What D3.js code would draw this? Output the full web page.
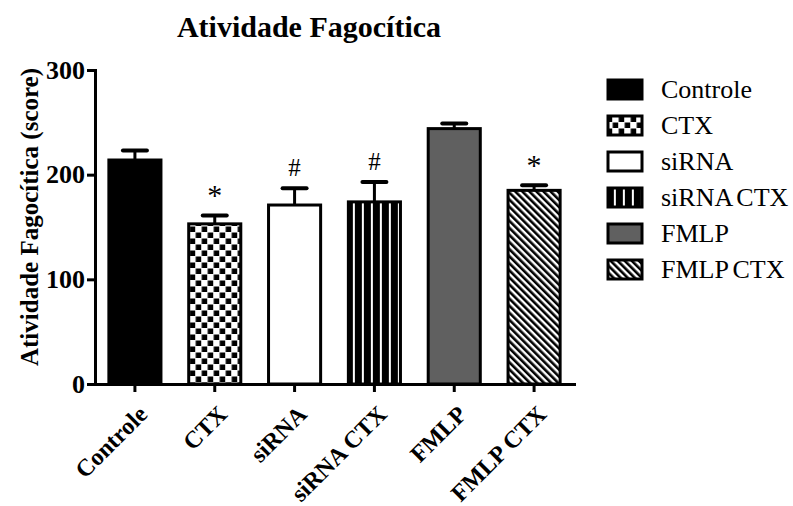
<!DOCTYPE html>
<html>
<head>
<meta charset="utf-8">
<script src="https://cdn.jsdelivr.net/npm/d3@7"></script>
<style>
  body { margin: 0; background: #fff; }
  text { font-family: "Liberation Serif", "Times New Roman", serif; }
</style>
</head>
<body>
<svg id="chart" width="793" height="506"></svg>
<script>
const groups = ["Controle", "CTX", "siRNA", "siRNA CTX", "FMLP", "FMLP CTX"];
const means = [214, 153, 171, 174, 244, 185];
const errors = [9, 8, 16, 19, 5, 5];
const marks = ["", "*", "#", "#", "", "*"];
const yTicks = [0, 100, 200, 300];

const fills = ["#000", "url(#checker)", "#fff", "url(#vlines)", "#606060", "url(#diag)"];

const svg = d3.select("#chart");
const margin = { left: 95, right: 219, top: 70, bottom: 122 };
const width = 793 - margin.left - margin.right;
const height = 506 - margin.top - margin.bottom;

const x = d3.scaleBand().domain(groups).range([0, width])
  .paddingInner(0.31).paddingOuter(0.155);
const y = d3.scaleLinear().domain([0, 300]).range([height, 0]);

const defs = svg.append("defs");
const checker = defs.append("pattern").attr("id", "checker")
  .attr("patternUnits", "userSpaceOnUse").attr("width", 12).attr("height", 12)
  .attr("x", margin.left + x("CTX") + 3);
checker.append("rect").attr("width", 12).attr("height", 12).attr("fill", "#fff");
checker.append("rect").attr("x", 0.5).attr("y", 0.5).attr("width", 5.5).attr("height", 5.5).attr("fill", "#000");
checker.append("rect").attr("x", 6.5).attr("y", 6.5).attr("width", 5.5).attr("height", 5.5).attr("fill", "#000");

const vlines = defs.append("pattern").attr("id", "vlines")
  .attr("patternUnits", "userSpaceOnUse").attr("width", 9).attr("height", 10)
  .attr("x", margin.left + x("siRNA CTX") + 1 - 4);
vlines.append("rect").attr("width", 9).attr("height", 10).attr("fill", "#000");
vlines.append("rect").attr("x", 4).attr("width", 2).attr("height", 10).attr("fill", "#fff");

const diag = defs.append("pattern").attr("id", "diag")
  .attr("patternUnits", "userSpaceOnUse").attr("width", 5).attr("height", 5)
  .attr("patternTransform", "rotate(-45)");
diag.append("rect").attr("width", 5).attr("height", 5).attr("fill", "#fff");
diag.append("rect").attr("width", 2.6).attr("height", 5).attr("fill", "#000");

const g = svg.append("g").attr("transform", `translate(${margin.left},${margin.top})`);

const data = groups.map((k, i) => ({ k, m: means[i], e: errors[i], s: marks[i], f: fills[i] }));

// error bars (upper only)
const eb = g.append("g").attr("stroke", "#000");
eb.selectAll("line.stem").data(data).join("line")
  .attr("x1", d => x(d.k) + x.bandwidth() / 2).attr("x2", d => x(d.k) + x.bandwidth() / 2)
  .attr("y1", d => y(d.m)).attr("y2", d => y(d.m + d.e))
  .attr("stroke-width", 3);
eb.selectAll("line.cap").data(data).join("line")
  .attr("x1", d => x(d.k) + x.bandwidth() / 2 - 12).attr("x2", d => x(d.k) + x.bandwidth() / 2 + 12)
  .attr("y1", d => y(d.m + d.e)).attr("y2", d => y(d.m + d.e))
  .attr("stroke-width", 4).attr("stroke-linecap", "round");

// bars
g.append("g").selectAll("rect").data(data).join("rect")
  .attr("x", d => x(d.k) + 1.5)
  .attr("y", d => y(d.m))
  .attr("width", x.bandwidth() - 3)
  .attr("height", d => y(0) - y(d.m))
  .attr("fill", d => d.f)
  .attr("stroke", "#000").attr("stroke-width", 3);

// significance marks
g.append("g").selectAll("text").data(data.filter(d => d.s)).join("text")
  .attr("x", d => x(d.k) + x.bandwidth() / 2)
  .attr("y", d => y(d.m + d.e) - (d.s === "*" ? 10 : 12))
  .attr("text-anchor", "middle")
  .attr("font-size", d => d.s === "*" ? 30 : 25)
  .text(d => d.s);

// axes
const yAxis = g.append("g")
  .call(d3.axisLeft(y).tickValues(yTicks).tickSize(8).tickSizeOuter(0).tickPadding(2));
const xAxis = g.append("g").attr("transform", `translate(0,${height})`)
  .call(d3.axisBottom(x).tickSize(8).tickSizeOuter(0));
[yAxis, xAxis].forEach(a => {
  a.selectAll("path, line").attr("stroke", "#000").attr("stroke-width", 3);
  a.select("path").attr("stroke-linecap", "square");
});
yAxis.selectAll("text").attr("font-size", 26).attr("font-weight", "bold")
  .attr("font-family", "Liberation Serif").attr("fill", "#000");
xAxis.selectAll("text").attr("font-size", 24).attr("font-weight", "bold")
  .attr("font-family", "Liberation Serif").attr("fill", "#000")
  .attr("text-anchor", "end").attr("dy", 0)
  .attr("transform", "translate(6,24) rotate(-45)");

// axis title
svg.append("text")
  .attr("transform", `translate(38,217) rotate(-90)`)
  .attr("text-anchor", "middle")
  .attr("font-size", 25).attr("font-weight", "bold")
  .text("Atividade Fagocítica (score)");

// chart title
svg.append("text")
  .attr("x", 309).attr("y", 37)
  .attr("text-anchor", "middle")
  .attr("font-size", 30).attr("font-weight", "bold")
  .text("Atividade Fagocítica");

// legend
const legend = svg.append("g").attr("transform", "translate(608,80)");
const li = legend.selectAll("g").data(data).join("g")
  .attr("transform", (d, i) => `translate(0,${i * 36})`);
li.append("rect").attr("width", 34).attr("height", 19)
  .attr("fill", d => d.f).attr("stroke", "#000").attr("stroke-width", 3);
li.append("text").attr("x", 53).attr("y", 18)
  .attr("font-size", 26).attr("word-spacing", -2).text(d => d.k);
</script>
</body>
</html>
